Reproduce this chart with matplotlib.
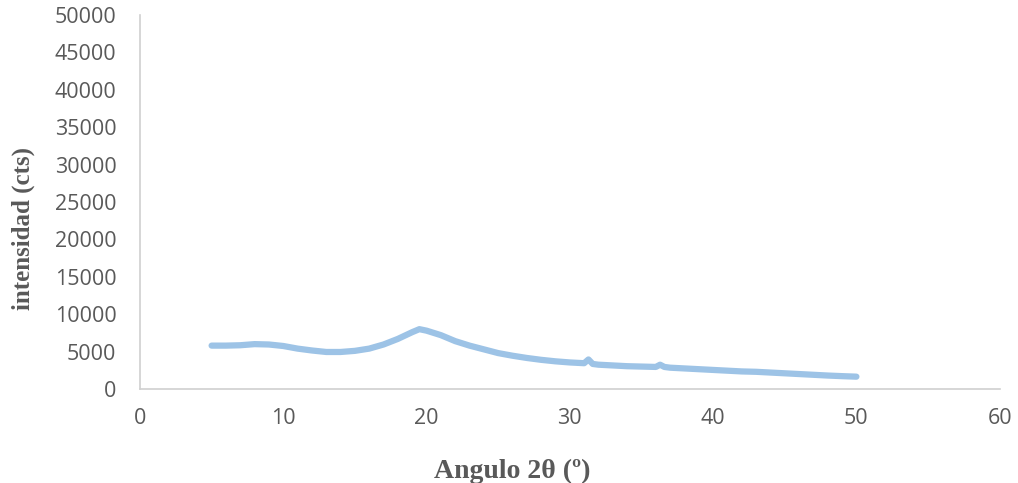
import matplotlib
matplotlib.use("Agg")
import matplotlib.pyplot as plt

# Diffraction pattern: 2-theta angle (degrees) vs intensity (counts)
two_theta = [5, 6, 7, 8, 9, 10, 11, 12, 13, 14, 15, 16, 17, 18, 19, 19.5,
             20, 21, 22, 23, 24, 25, 26, 27, 28, 29, 30, 31, 31.3, 31.6,
             32, 33, 34, 35, 36, 36.3, 36.6, 37, 38, 39, 40, 41, 42, 43,
             44, 45, 46, 47, 48, 49, 50]
intensity = [5800, 5800, 5850, 6000, 5950, 5750, 5400, 5150, 4950, 4950,
             5100, 5400, 5950, 6700, 7600, 8000, 7800, 7200, 6400, 5800,
             5300, 4800, 4450, 4150, 3900, 3700, 3550, 3450, 3950, 3350,
             3250, 3150, 3050, 3000, 2950, 3250, 2950, 2850, 2750, 2650,
             2550, 2450, 2350, 2300, 2200, 2100, 2000, 1900, 1800, 1720,
             1650]

x_ticks = [0, 10, 20, 30, 40, 50, 60]
y_ticks = list(range(0, 50001, 5000))

fig = plt.figure(figsize=(10.18, 4.83), dpi=100)
ax = fig.add_axes([0.1375, 0.1946, 0.8445, 0.7744])

ax.plot(two_theta, intensity, color="#9DC3E6", lw=4.5,
        solid_capstyle="round", solid_joinstyle="round")

ax.set_xlim(0, 60)
ax.set_ylim(0, 50000)
ax.set_xticks(x_ticks)
ax.set_yticks(y_ticks)

tick_color = "#595959"
for lab in ax.get_xticklabels() + ax.get_yticklabels():
    lab.set_fontfamily("Open Sans")
    lab.set_fontsize(15.5)
    lab.set_color(tick_color)
ax.tick_params(axis="both", length=0)
ax.tick_params(axis="x", pad=14)
ax.tick_params(axis="y", pad=17)

for side in ("top", "right"):
    ax.spines[side].set_visible(False)
for side in ("left", "bottom"):
    ax.spines[side].set_color("#D0D0D0")
    ax.spines[side].set_linewidth(1.2)

label_style = dict(family="Liberation Serif", weight="bold", color=tick_color)
fig.text(512 / 1018, 1 - 478 / 483, "Angulo 2θ (º)", ha="center",
         va="baseline", size=20, **label_style)
fig.text(23 / 1018, 1 - 228 / 483, "intensidad (cts)", ha="center",
         va="center", rotation=90, size=18, **label_style)

fig.savefig("out.png", dpi=100)
